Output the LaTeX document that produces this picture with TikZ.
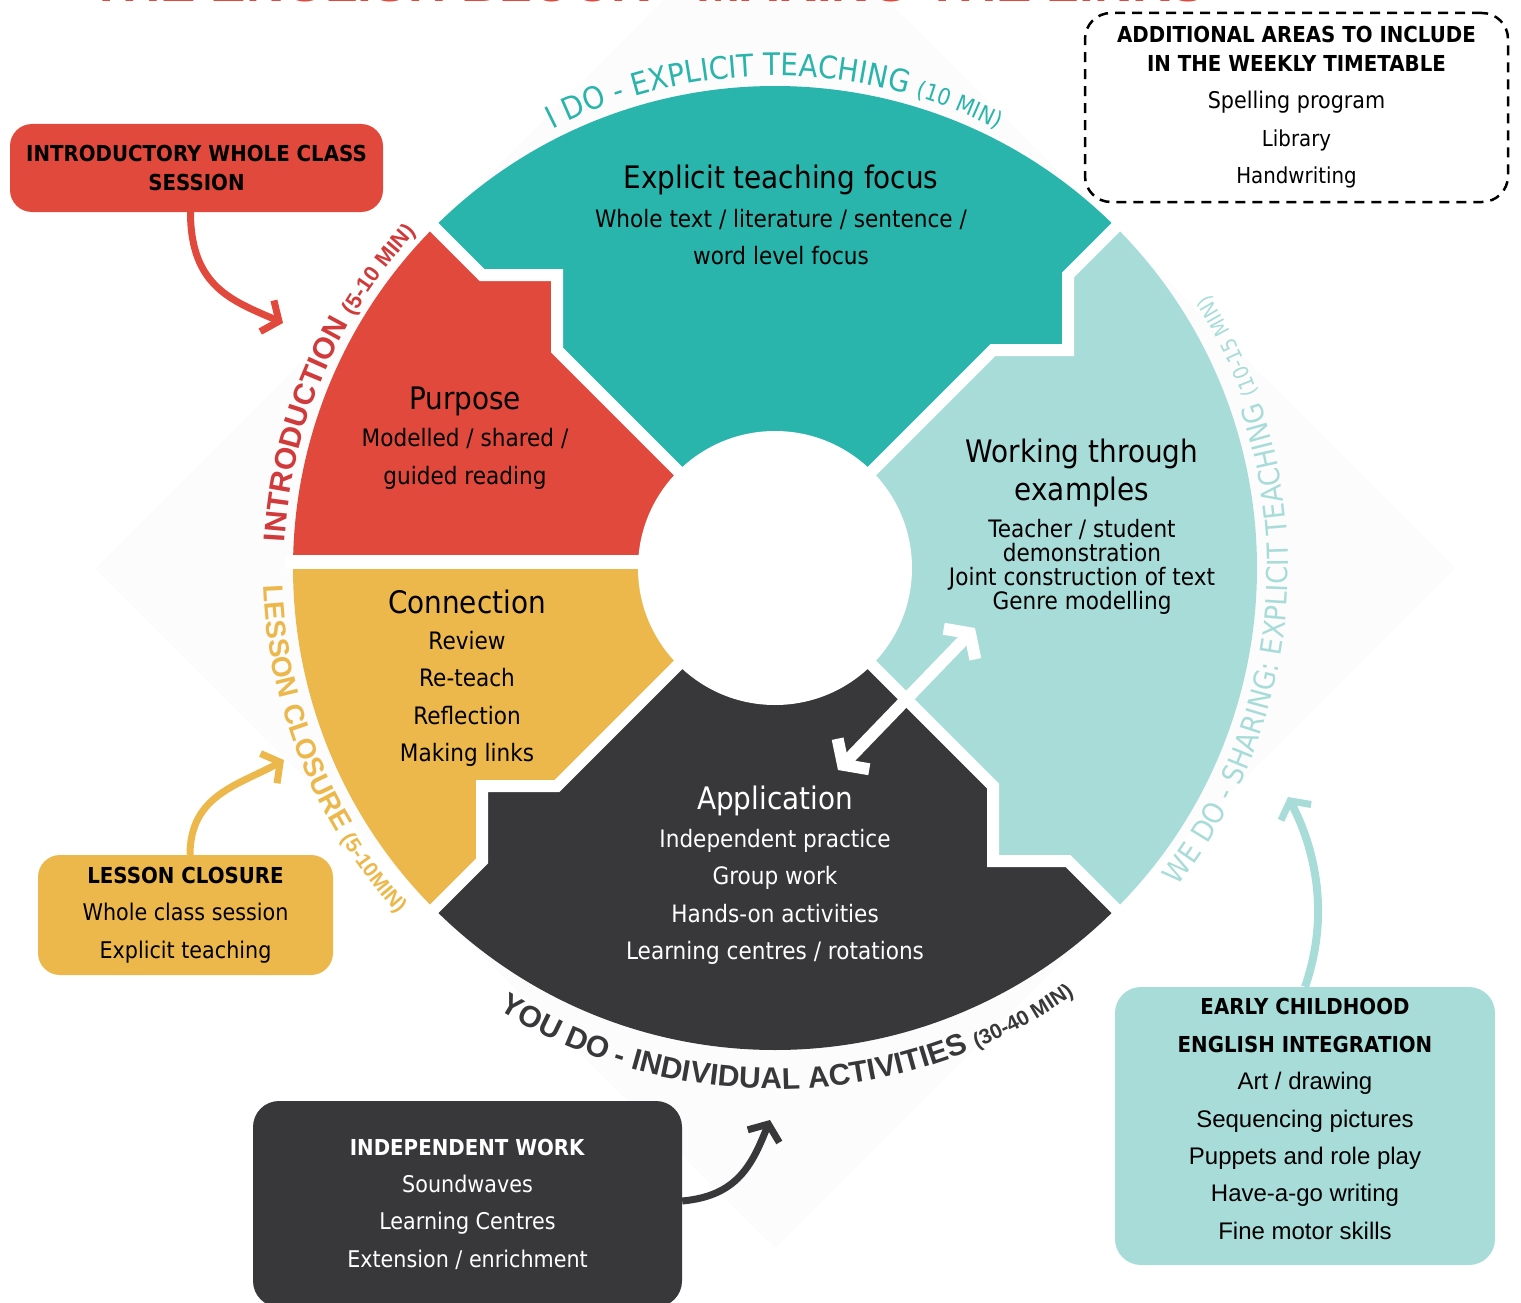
\documentclass[tikz,border=0pt]{standalone}
\usepackage{fontspec}
\setmainfont{DejaVu Sans}[FakeStretch=0.9]
\newfontfamily\arialfont{Liberation Sans}
\usetikzlibrary{arrows.meta,decorations.text}

\definecolor{introRed}{HTML}{E2493D}
\definecolor{introInk}{HTML}{D03A3A}
\definecolor{teachTeal}{HTML}{29B4AC}
\definecolor{shareTeal}{HTML}{A8DCD8}
\definecolor{closeGold}{HTML}{ECB84B}
\definecolor{soloGrey}{HTML}{38383A}
\definecolor{backGrey}{HTML}{FCFCFC}

\tikzset{
  segtitle/.style={font=\fontsize{31}{38}\selectfont, align=center},
  segtext/.style={font=\fontsize{24}{37.5}\selectfont, align=center},
  sidebox/.style={rounded corners=22pt, align=center, inner sep=0pt, font=\fontsize{23}{37.3}\selectfont},
  pointer/.style={line width=7pt, -{Straight Barb[length=13pt,width=34pt,line width=7pt]}},
  gap/.style={white, line width=12pt, line join=miter},
  ringtext/.style={decorate, decoration={text along path, #1}},
}

\begin{document}
\begin{tikzpicture}[x=1pt,y=-1pt]
\useasboundingbox (0,0) rectangle (1521,1303);
\fill[backGrey] (95,568) -- (775,-112) -- (1455,568) -- (775,1248) -- cycle;

% heading, only its foot is on the page
\begin{scope}
\clip (0,0) rectangle (1521,1303);
\node[anchor=base, text=introRed, font=\arialfont\bfseries\fontsize{53}{53}\selectfont] (title) at (648,2) {THE ENGLISH BLOCK - MAKING THE LINKS};
\end{scope}

% the wheel, angles run clockwise from east
\coordinate (c) at (775,568);
\begin{scope}[shift={(c)}]
\fill[introRed] (0,0) -- (180:482) arc[start angle=180, end angle=225, radius=482]
  -- (-293,-293) -- (-218,-293) -- (-218,-218) -- cycle;
\fill[teachTeal] (0,0) -- (-218,-218) -- (-218,-293) -- (-293,-293) -- (225:482)
  arc[start angle=225, end angle=315, radius=482] -- (293,-293) -- (293,-218) -- (218,-218) -- cycle;
\fill[shareTeal] (0,0) -- (218,-218) -- (293,-218) -- (293,-293) -- (315:482)
  arc[start angle=315, end angle=405, radius=482] -- (293,293) -- (218,293) -- (218,218) -- cycle;
\fill[soloGrey] (0,0) -- (218,218) -- (218,293) -- (293,293) -- (45:482)
  arc[start angle=45, end angle=135, radius=482] -- (-293,293) -- (-293,218) -- (-218,218) -- cycle;
\fill[closeGold] (0,0) -- (-218,218) -- (-293,218) -- (-293,293) -- (135:482)
  arc[start angle=135, end angle=180, radius=482] -- cycle;
\draw[gap] (0,0) -- (-218,-218) -- (-218,-293) -- (-293,-293) -- (-345,-345);
\draw[gap] (0,0) -- (218,-218) -- (293,-218) -- (293,-293) -- (345,-345);
\draw[gap] (0,0) -- (218,218) -- (218,293) -- (293,293) -- (345,345);
\draw[gap] (0,0) -- (-218,218) -- (-293,218) -- (-293,293) -- (-345,345);
\draw[gap, line width=14pt] (0,-6) -- (-490,-6);
\fill[white] (0,0) circle[radius=137];

% labels round the rim
\path[ringtext={text align=center, text color=teachTeal,
  text={|\fontsize{31}{31}\selectfont|I DO - EXPLICIT TEACHING |\fontsize{23}{23}\selectfont|(10 MIN)}}]
  (210:492) arc[start angle=210, end angle=330, radius=492];
\path[ringtext={text align=left, text color=introInk,
  text={|\arialfont\bfseries\fontsize{30}{30}\selectfont|INTRODUCTION |\arialfont\bfseries\fontsize{22}{22}\selectfont|(5-10 MIN)}}]
  (183:491) arc[start angle=183, end angle=240, radius=491];
\path[ringtext={text align=left, text color=closeGold,
  text={|\arialfont\bfseries\fontsize{28}{28}\selectfont|LESSON CLOSURE |\arialfont\bfseries\fontsize{21}{21}\selectfont|(5-10MIN)}}]
  (178:512) arc[start angle=178, end angle=120, radius=512];
\path[ringtext={text align=center, text color=soloGrey,
  text={|\arialfont\bfseries\fontsize{30}{30}\selectfont|YOU DO - INDIVIDUAL ACTIVITIES |\arialfont\bfseries\fontsize{21}{21}\selectfont|(30-40 MIN)}}]
  (150:521) arc[start angle=150, end angle=27, radius=521];
\path[ringtext={text align=center, text color=shareTeal,
  text={|\fontsize{29}{29}\selectfont|WE DO - SHARING: EXPLICIT TEACHING |\fontsize{21}{21}\selectfont|(10-15 MIN)}}]
  (62:513) arc[start angle=62, end angle=-56, radius=513];
\end{scope}

% segment texts
\node[segtitle] (teachTitle) at (781,180) {Explicit teaching focus};
\node[segtext] (teachText) at (781,237) {Whole text / literature / sentence /\\word level focus};
\node[segtitle] (introTitle) at (465,401) {Purpose};
\node[segtext] (introText) at (465,459) {Modelled / shared /\\guided reading};
\node[segtitle] (shareTitle) at (1082,473) {Working through\\examples};
\node[segtext, font=\fontsize{24}{24}\selectfont] (shareText) at (1082,567) {Teacher / student\\demonstration\\Joint construction of text\\Genre modelling};
\node[segtitle] (closeTitle) at (467,602) {Connection};
\node[segtext] (closeText) at (467,699) {Review\\Re-teach\\Reflection\\Making links};
\node[segtitle, text=white] (soloTitle) at (775,801) {Application};
\node[segtext, text=white] (soloText) at (775,897) {Independent practice\\Group work\\Hands-on activities\\Learning centres / rotations};

\coordinate (dblA) at (838,770);
\coordinate (dblB) at (975,628);
\draw[white, line width=12pt, {Straight Barb[length=15pt,width=44pt,line width=12pt]}-{Straight Barb[length=15pt,width=44pt,line width=12pt]}] (dblA) -- (dblB);

% side boxes
\node[sidebox, fill=introRed, minimum width=373pt, minimum height=88pt, font=\bfseries\fontsize{22}{29}\selectfont] (introBox) at (196.5,168) {INTRODUCTORY WHOLE CLASS\\SESSION};
\node[sidebox, fill=closeGold, minimum width=295pt, minimum height=120pt] (closeBox) at (185.5,915) {\textbf{\fontsize{22}{37.3}\selectfont LESSON CLOSURE}\\Whole class session\\Explicit teaching};
\node[sidebox, fill=soloGrey, text=white, rounded corners=26pt, minimum width=429pt, minimum height=206pt] (soloBox) at (467.5,1204) {\textbf{\fontsize{22}{37.3}\selectfont INDEPENDENT WORK}\\Soundwaves\\Learning Centres\\Extension / enrichment};
\node[sidebox, fill=shareTeal, rounded corners=26pt, minimum width=380pt, minimum height=278pt] (shareBox) at (1305,1126) {};
\node[align=center, font=\arialfont\fontsize{24}{37.4}\selectfont] (shareList) at (1305,1119) {\rmfamily\bfseries\fontsize{22}{37.4}\selectfont EARLY CHILDHOOD\\\rmfamily\bfseries\fontsize{22}{37.4}\selectfont ENGLISH INTEGRATION\\Art / drawing\\Sequencing pictures\\Puppets and role play\\Have-a-go writing\\Fine motor skills};
\node[draw, dash pattern=on 10pt off 7pt, line width=2.5pt, rounded corners=26pt, minimum width=423pt, minimum height=189pt, align=center, inner sep=0pt, font=\fontsize{22}{29}\selectfont] (extraBox) at (1296.5,107.5) {\textbf{ADDITIONAL AREAS TO INCLUDE}\\\textbf{IN THE WEEKLY TIMETABLE}\\[8pt]\fontsize{23}{29}\selectfont Spelling program\\[8.5pt]Library\\[8.5pt]Handwriting};

% pointers from the boxes to the rim
\coordinate (introTip) at (283,323);
\coordinate (closeTip) at (284,760);
\coordinate (soloTip) at (770,1120);
\coordinate (shareTip) at (1288,797);
\draw[pointer, introRed] ([xshift=-6pt]introBox.south) .. controls +(0,75) and +(-50,-22) .. (introTip);
\draw[pointer, closeGold] ([xshift=4.5pt]closeBox.north) .. controls +(0,-60) and +(-45,25) .. (closeTip);
\draw[pointer, soloGrey] ([yshift=3pt]soloBox.east) .. controls +(55,-5) and +(-18,45) .. (soloTip);
\draw[pointer, shareTeal, line width=8pt] (shareBox.north) .. controls +(28,-80) and +(22,42) .. (shareTip);
\end{tikzpicture}
\end{document}
